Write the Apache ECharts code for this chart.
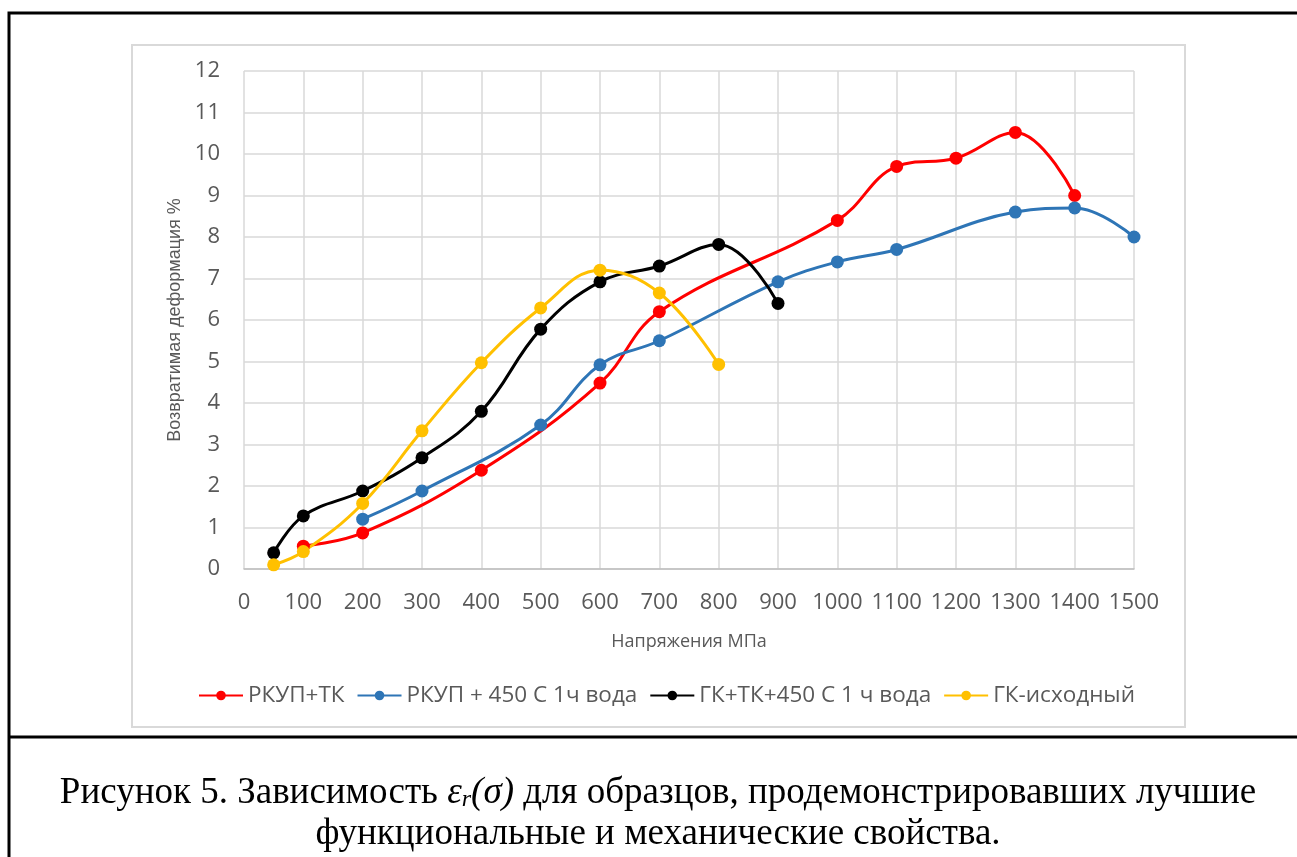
<!DOCTYPE html>
<html>
<head>
<meta charset="utf-8">
<script src="https://cdn.jsdelivr.net/npm/echarts@6/dist/echarts.min.js"></script>
<style>
  html, body { margin: 0; padding: 0; background: #fff; }
  #chart { width: 1297px; height: 857px; }
</style>
</head>
<body>
<div id="chart"></div>
<script>
// Напряжения МПа -> Возвратимая деформация %
const seriesNames = ['РКУП+ТК', 'РКУП + 450 С 1ч вода', 'ГК+ТК+450 С 1 ч вода', 'ГК-исходный'];
const seriesColors = ['#ff0000', '#2e75b6', '#000000', '#ffc000'];

const rkupTkX = [100, 200, 400, 600, 700, 1000, 1100, 1200, 1300, 1400];
const rkupTkY = [0.55, 0.87, 2.38, 4.48, 6.2, 8.4, 9.7, 9.9, 10.52, 9.0];

const rkup450X = [200, 300, 500, 600, 700, 900, 1000, 1100, 1300, 1400, 1500];
const rkup450Y = [1.2, 1.88, 3.47, 4.92, 5.5, 6.92, 7.4, 7.7, 8.6, 8.7, 8.0];

const gkTk450X = [50, 100, 200, 300, 400, 500, 600, 700, 800, 900];
const gkTk450Y = [0.39, 1.28, 1.88, 2.68, 3.8, 5.78, 6.92, 7.3, 7.82, 6.4];

const gkIshX = [50, 100, 200, 300, 400, 500, 600, 700, 800];
const gkIshY = [0.1, 0.42, 1.58, 3.33, 4.97, 6.29, 7.2, 6.65, 4.93];

const xs = [rkupTkX, rkup450X, gkTk450X, gkIshX];
const ys = [rkupTkY, rkup450Y, gkTk450Y, gkIshY];

const myChart = echarts.init(document.getElementById('chart'));

const gray = '#595959';

const option = {
    animation: false,
    backgroundColor: '#fff',
    grid: { left: 244, right: 163, top: 71, bottom: 288 },
    legend: {
        top: 679,
        left: 193,
        itemWidth: 44,
        itemHeight: 12,
        itemGap: 12,
        textStyle: { color: gray, fontSize: 22.5, fontFamily: 'Open Sans' },
        data: seriesNames
    },
    xAxis: {
        type: 'value',
        min: 0,
        max: 1500,
        interval: 100,
        name: 'Напряжения МПа',
        nameLocation: 'middle',
        nameGap: 64,
        nameTextStyle: { color: gray, fontSize: 18, fontFamily: 'Open Sans' },
        axisLine: { show: true, lineStyle: { color: '#bfbfbf', width: 1.5 } },
        axisTick: { show: false },
        axisLabel: {
            color: gray, fontSize: 22, margin: 23, fontFamily: 'Open Sans',
            formatter: (v) => String(v)
        },
        splitLine: { show: true, lineStyle: { color: '#d9d9d9', width: 1.5 } }
    },
    yAxis: {
        type: 'value',
        min: 0,
        max: 12,
        interval: 1,
        name: 'Возвратимая деформация %',
        nameLocation: 'middle',
        nameGap: 60,
        nameTextStyle: { color: gray, fontSize: 18, fontFamily: 'Liberation Sans' },
        axisLine: { show: false },
        axisTick: { show: false },
        axisLabel: { color: gray, fontSize: 22, margin: 24, fontFamily: 'Open Sans' },
        splitLine: { show: true, lineStyle: { color: '#d9d9d9', width: 1.5 } }
    },
    series: seriesNames.map((name, i) => ({
        name: name,
        type: 'line',
        smooth: 0.4,
        symbol: 'circle',
        symbolSize: 13,
        itemStyle: { color: seriesColors[i] },
        lineStyle: { color: seriesColors[i], width: 3 },
        data: xs[i].map((x, k) => [x, ys[i][k]])
    })),
    graphic: [
        {
            type: 'rect',
            shape: { x: 9, y: 13, width: 1400, height: 1000 },
            style: { fill: 'none', stroke: '#000', lineWidth: 3 },
            silent: true
        },
        {
            type: 'line',
            shape: { x1: 8, y1: 737, x2: 1297, y2: 737 },
            style: { stroke: '#000', lineWidth: 3 },
            silent: true
        },
        {
            type: 'rect',
            shape: { x: 132, y: 45, width: 1053, height: 682 },
            style: { fill: 'none', stroke: '#d9d9d9', lineWidth: 2 },
            silent: true
        },
        {
            type: 'text',
            x: 658,
            y: 793,
            style: {
                text: '{a|Рисунок 5. Зависимость }{i|ε}{s|r}{i|(σ)}{a| для образцов, продемонстрировавших лучшие}',
                align: 'center',
                verticalAlign: 'middle',
                rich: {
                    a: { fontFamily: 'Liberation Serif', fontSize: 37, fill: '#000' },
                    i: { fontFamily: 'Liberation Serif', fontSize: 37, fontStyle: 'italic', fill: '#000' },
                    s: { fontFamily: 'Liberation Serif', fontSize: 24, fontStyle: 'italic', fill: '#000', verticalAlign: 'bottom', padding: [14, 0, 0, 0] }
                }
            }
        },
        {
            type: 'text',
            x: 658,
            y: 834,
            style: {
                text: 'функциональные и механические свойства.',
                align: 'center',
                verticalAlign: 'middle',
                fontFamily: 'Liberation Serif',
                fontSize: 37,
                fill: '#000'
            }
        }
    ]
};

myChart.setOption(option);
</script>
</body>
</html>
